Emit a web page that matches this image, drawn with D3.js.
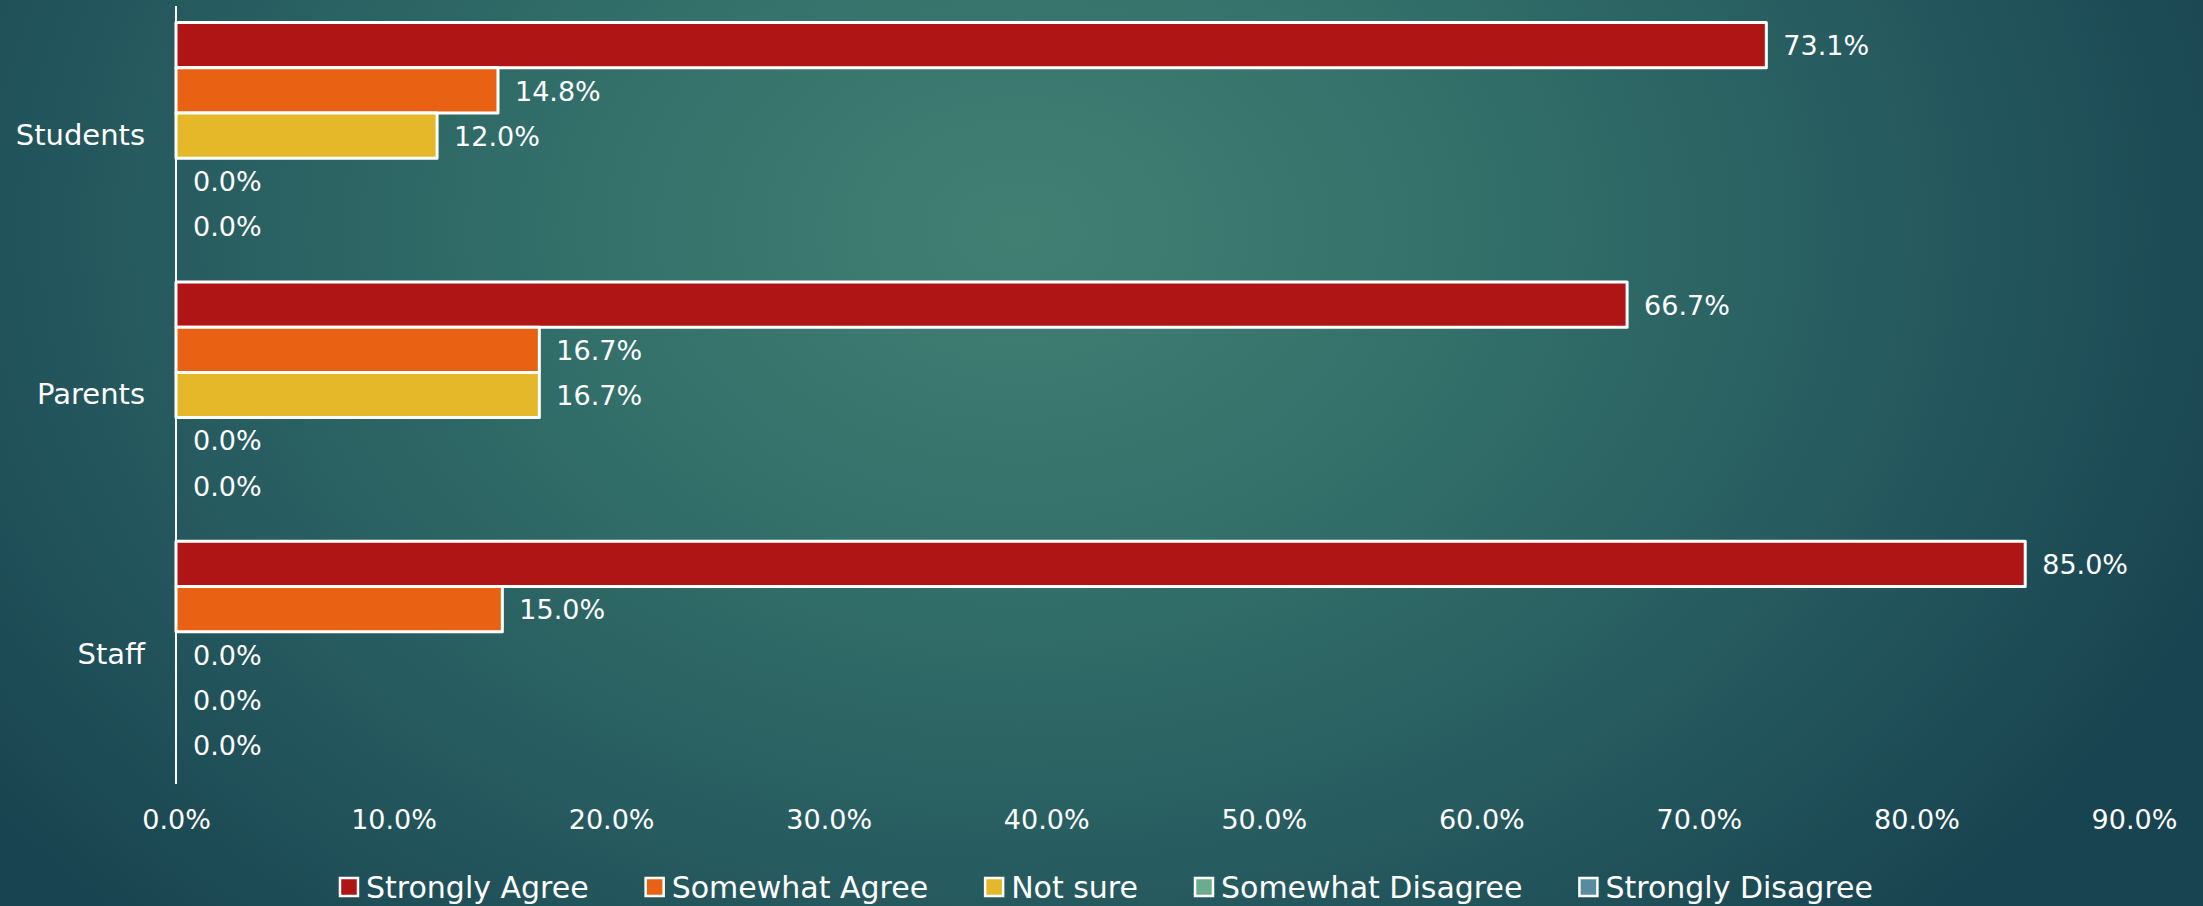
<!DOCTYPE html>
<html>
<head>
<meta charset="utf-8">
<script src="https://cdn.jsdelivr.net/npm/d3@7"></script>
<style>
  html, body { margin: 0; padding: 0; background: #1f4d57; }
  svg { display: block; }
  text { font-family: "DejaVu Sans", sans-serif; fill: #ffffff; }
</style>
</head>
<body>
<script>
const categories = ["Students", "Parents", "Staff"];
const seriesNames = ["Strongly Agree", "Somewhat Agree", "Not sure", "Somewhat Disagree", "Strongly Disagree"];
const stronglyAgree = [73.1, 66.7, 85.0];
const somewhatAgree = [14.8, 16.7, 15.0];
const notSure = [12.0, 16.7, 0.0];
const somewhatDisagree = [0.0, 0.0, 0.0];
const stronglyDisagree = [0.0, 0.0, 0.0];
const xTicks = [0, 10, 20, 30, 40, 50, 60, 70, 80, 90];
const seriesColors = ["#b01515", "#e96213", "#e5b82a", "#6bac8c", "#5a8a9f"];

const seriesValues = [stronglyAgree, somewhatAgree, notSure, somewhatDisagree, stronglyDisagree];

const W = 2203, H = 906;
const svg = d3.select("body").append("svg").attr("width", W).attr("height", H);

// background gradient
const defs = svg.append("defs");
const grad = defs.append("radialGradient").attr("id", "bg")
  .attr("gradientUnits", "userSpaceOnUse")
  .attr("cx", 1020).attr("cy", 230).attr("r", 1300)
  .attr("gradientTransform", "translate(1020,230) scale(1,0.75) translate(-1020,-230)");
grad.append("stop").attr("offset", 0).attr("stop-color", "#427f73");
grad.append("stop").attr("offset", 0.35).attr("stop-color", "#33706a");
grad.append("stop").attr("offset", 0.7).attr("stop-color", "#25595e");
grad.append("stop").attr("offset", 1).attr("stop-color", "#184350");
svg.append("rect").attr("width", W).attr("height", H).attr("fill", "url(#bg)");

const x = d3.scaleLinear().domain([0, 90]).range([176, 2134]);
const y = d3.scaleBand().domain(categories).range([6, 784]).paddingInner(0.128).paddingOuter(0.064);
const ySub = d3.scaleBand().domain(seriesNames).range([0, y.bandwidth()]);

const fs = 27;

// bars
const data = [];
categories.forEach((c, ci) => {
  seriesNames.forEach((s, si) => {
    data.push({ cat: c, series: s, si: si, value: seriesValues[si][ci] });
  });
});

const g = svg.append("g");
g.selectAll("rect.bar").data(data.filter(d => d.value > 0)).join("rect")
  .attr("class", "bar")
  .attr("x", x(0))
  .attr("y", d => y(d.cat) + ySub(d.series))
  .attr("width", d => x(d.value) - x(0))
  .attr("height", ySub.bandwidth())
  .attr("fill", d => seriesColors[d.si])
  .attr("stroke", "#ffffff")
  .attr("stroke-width", 3)
  .attr("stroke-linejoin", "round");

// data labels
g.selectAll("text.lbl").data(data).join("text")
  .attr("class", "lbl")
  .attr("x", d => x(d.value) + 17)
  .attr("y", d => y(d.cat) + ySub(d.series) + ySub.bandwidth() / 2)
  .attr("dy", "0.38em")
  .attr("font-size", fs)
  .text(d => d.value.toFixed(1) + "%");

// y axis line (no ticks)
const yAxis = d3.axisLeft(y).tickSize(0).tickPadding(31);
const yg = svg.append("g").attr("transform", `translate(${x(0)},0)`).call(yAxis);
yg.select(".domain").attr("stroke", "#ffffff").attr("stroke-width", 2).attr("d", `M0,6V784`);
yg.selectAll(".tick text").attr("font-size", 29).attr("font-family", "DejaVu Sans, sans-serif").attr("fill", "#ffffff");

// x axis labels only
const xAxis = d3.axisBottom(x).tickValues(xTicks).tickSize(0).tickPadding(0)
  .tickFormat(d => d.toFixed(1) + "%");
const xg = svg.append("g").attr("transform", `translate(0,810)`).call(xAxis);
xg.select(".domain").remove();
xg.selectAll(".tick text").attr("font-size", fs).attr("font-family", "DejaVu Sans, sans-serif").attr("fill", "#ffffff").attr("dy", "0.71em");

// legend
const leg = svg.append("g");
const items = leg.selectAll("g.item").data(seriesNames).join("g").attr("class", "item");
items.append("rect")
  .attr("x", 1).attr("y", -9).attr("width", 18).attr("height", 18)
  .attr("fill", (d, i) => seriesColors[i])
  .attr("stroke", "#ffffff").attr("stroke-width", 2.5);
items.append("text")
  .attr("x", 27).attr("y", 0).attr("dy", "0.36em")
  .attr("font-size", 30)
  .text(d => d);
const widths = [];
items.each(function () {
  const w = 27 + this.querySelector("text").getComputedTextLength();
  widths.push(w);
});
const gap = 56;
const total = d3.sum(widths) + gap * (widths.length - 1);
let start = 1106 - total / 2;
items.attr("transform", (d, i) => {
  const tx = start;
  start += widths[i] + gap;
  return `translate(${tx},887)`;
});
</script>
</body>
</html>
